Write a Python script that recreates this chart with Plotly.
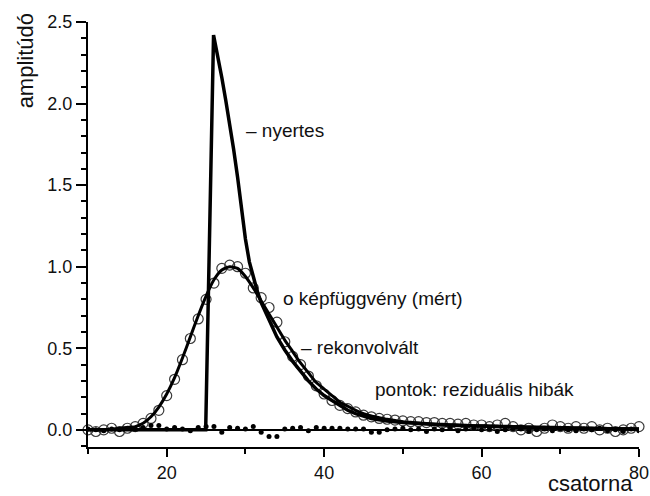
import plotly.graph_objects as go

# ---- data ----
channels = list(range(10, 81))

measured = [0.00, -0.01, 0.00, 0.01, -0.01, 0.01, 0.02, 0.04, 0.07, 0.12,
            0.21, 0.31, 0.43, 0.56, 0.68, 0.80, 0.90, 0.99, 1.01, 1.00,
            0.96, 0.87, 0.81, 0.75, 0.66, 0.54, 0.45, 0.40, 0.33, 0.27,
            0.22, 0.18, 0.15, 0.13, 0.11, 0.09, 0.08, 0.07, 0.065, 0.06,
            0.055, 0.05, 0.05, 0.045, 0.045, 0.04, 0.04, 0.035, 0.04, 0.03,
            0.03, 0.02, 0.03, 0.04, 0.02, 0.00, 0.01, -0.01, 0.01, 0.03,
            0.02, 0.01, 0.02, 0.01, 0.02, 0.00, 0.01, -0.01, 0.00, 0.01, 0.02]

reconv = [0.00, 0.00, 0.00, 0.005, 0.01, 0.015, 0.02, 0.04, 0.08, 0.14,
          0.22, 0.32, 0.44, 0.57, 0.70, 0.82, 0.92, 0.98, 1.00, 0.99,
          0.94, 0.87, 0.79, 0.71, 0.63, 0.55, 0.48, 0.41, 0.35, 0.29,
          0.25, 0.21, 0.17, 0.145, 0.12, 0.10, 0.085, 0.075, 0.065, 0.057,
          0.05, 0.046, 0.042, 0.039, 0.036, 0.034, 0.032, 0.03, 0.028, 0.026,
          0.025, 0.024, 0.023, 0.022, 0.021, 0.02, 0.019, 0.018, 0.017, 0.016,
          0.015, 0.014, 0.013, 0.012, 0.011, 0.01, 0.009, 0.008, 0.007, 0.006, 0.005]

winner_x = [10, 24.95, 25.95, 26.5, 27, 27.5, 28, 28.5, 29, 29.5, 30, 30.5, 31, 31.5,
            32, 33, 34, 35, 36, 37, 38, 39, 40, 41, 42, 43, 44, 45, 46, 48, 50,
            55, 60, 65, 70, 75, 80]
winner_y = [0.0, 0.0, 2.42, 2.29, 2.16, 2.02, 1.88, 1.72, 1.55, 1.36, 1.17, 1.03, 0.93, 0.85,
            0.78, 0.67, 0.57, 0.49, 0.42, 0.36, 0.30, 0.25, 0.21, 0.18, 0.15, 0.12, 0.10,
            0.085, 0.07, 0.055, 0.045, 0.03, 0.02, 0.015, 0.01, 0.008, 0.005]

residual = [0.005, 0.0, -0.005, 0.005, 0.0, 0.01, 0.005, 0.015, 0.027, 0.027,
            0.005, 0.015, 0.005, -0.005, 0.015, 0.02, 0.02, -0.015, 0.015, 0.01,
            0.005, 0.02, -0.015, -0.04, -0.04, 0.005, 0.01, 0.015, -0.005, 0.015,
            0.01, 0.01, 0.01, 0.005, 0.005, 0.005, -0.015, -0.015, 0.0, 0.005,
            0.01, 0.0, 0.005, -0.01, 0.005, 0.0, 0.01, -0.005, 0.005, 0.01,
            0.0, 0.005, -0.01, 0.0, 0.015, 0.005, -0.01, 0.0, 0.005, -0.005,
            0.01, 0.0, -0.005, 0.005, 0.0, 0.01, -0.005, 0.0, -0.01, 0.005, -0.005]

x_ticks = [20, 40, 60, 80]
y_ticks = [0.0, 0.5, 1.0, 1.5, 2.0, 2.5]
y_tick_labels = ["0.0", "0.5", "1.0", "1.5", "2.0", "2.5"]

labels = {
    "y_title": "amplitúdó",
    "x_title": "csatorna",
    "winner": "– nyertes",
    "measured": "o képfüggvény (mért)",
    "reconv": "– rekonvolvált",
    "residual": "pontok: reziduális hibák",
}

# ---- figure ----
FONT = "Liberation Sans, Arial, sans-serif"
W, H = 650, 496
L, R, T, B = 88.3, 11.4, 21.7, 48.8
YMIN, YMAX = -0.105, 2.5


def px(xp):
    return (xp - L) / (W - L - R)


def py(yp):
    return (H - B - yp) / (H - T - B)


fig = go.Figure()

fig.add_trace(go.Scatter(
    x=channels, y=measured, mode="markers",
    marker=dict(symbol="circle-open", size=10, color="#3a3a3a", line=dict(width=1.2)),
    showlegend=False, cliponaxis=False))

fig.add_trace(go.Scatter(
    x=channels, y=residual, mode="markers",
    marker=dict(symbol="circle", size=5, color="black"),
    showlegend=False))

fig.add_trace(go.Scatter(
    x=channels, y=reconv, mode="lines",
    line=dict(color="black", width=3, shape="spline", smoothing=0.6),
    showlegend=False))

fig.add_trace(go.Scatter(
    x=winner_x, y=winner_y, mode="lines", line=dict(color="black", width=3.5),
    showlegend=False))

fig.update_layout(
    width=W, height=H,
    margin=dict(l=L, r=R, t=T, b=B, pad=0, autoexpand=False),
    paper_bgcolor="white", plot_bgcolor="white",
    font=dict(family=FONT, size=18, color="#111111"),
    showlegend=False,
)

fig.update_xaxes(
    range=[10, 80], tickvals=x_ticks, ticktext=[str(v) for v in x_ticks],
    showgrid=False, zeroline=False, automargin=False,
    showline=True, linecolor="black", linewidth=2,
    ticks="outside", ticklen=8, tickwidth=2, tickcolor="black",
    minor=dict(tickvals=[10, 30, 50, 70], ticks="outside", ticklen=5, tickwidth=2, tickcolor="black"),
    tickfont=dict(size=18, family=FONT, color="#111111"),
)
fig.update_yaxes(
    range=[YMIN, YMAX], tickvals=y_ticks, ticktext=y_tick_labels,
    showgrid=False, automargin=False,
    zeroline=True, zerolinecolor="black", zerolinewidth=1.5,
    showline=True, linecolor="black", linewidth=2,
    ticks="outside", ticklen=10, tickwidth=2, tickcolor="black",
    minor=dict(dtick=0.1, tick0=0, ticks="outside", ticklen=5, tickwidth=2, tickcolor="black"),
    tickfont=dict(size=18, family=FONT, color="#111111"),
)

ann_font = dict(family=FONT, size=19, color="#111111")
fig.add_annotation(text=labels["y_title"], xref="paper", yref="paper",
                   x=px(25.5), y=py(61), textangle=-90, showarrow=False,
                   xanchor="center", yanchor="middle",
                   font=dict(family=FONT, size=22, color="#111111"))
fig.add_annotation(text=labels["x_title"], xref="paper", yref="paper",
                   x=px(590), y=py(484), showarrow=False,
                   xanchor="center", yanchor="middle",
                   font=dict(family=FONT, size=22, color="#111111"))
fig.add_annotation(text=labels["winner"], xref="paper", yref="paper",
                   x=px(244), y=py(130), showarrow=False,
                   xanchor="left", yanchor="middle", font=ann_font)
fig.add_annotation(text=labels["measured"], xref="paper", yref="paper",
                   x=px(281), y=py(299), showarrow=False,
                   xanchor="left", yanchor="middle", font=ann_font)
fig.add_annotation(text=labels["reconv"], xref="paper", yref="paper",
                   x=px(299), y=py(348), showarrow=False,
                   xanchor="left", yanchor="middle", font=ann_font)
fig.add_annotation(text=labels["residual"], xref="paper", yref="paper",
                   x=px(373), y=py(390), showarrow=False,
                   xanchor="left", yanchor="middle", font=ann_font)

fig.write_html("out.html", config={"displayModeBar": False},
               post_script="document.body.style.margin='0px';document.body.style.padding='0px';")
